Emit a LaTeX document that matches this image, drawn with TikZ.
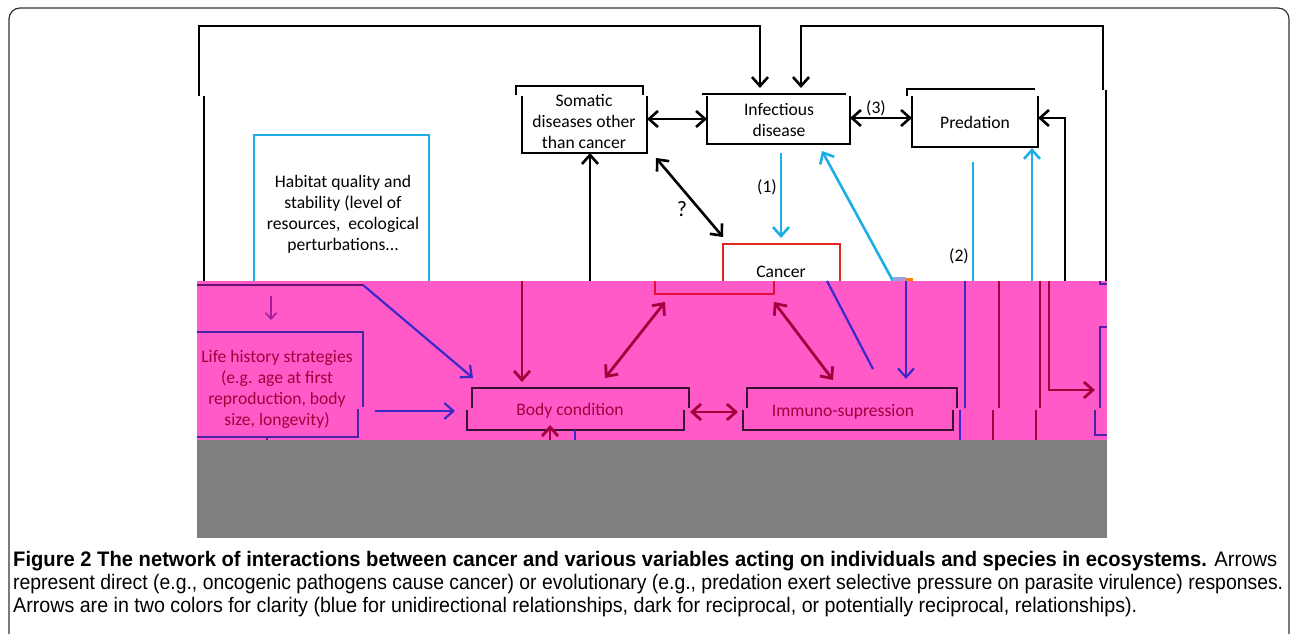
\documentclass[tikz,border=0pt]{standalone}
\usepackage{fontspec}
\setmainfont{Carlito}
\newfontfamily\capfont{Liberation Sans}
\usetikzlibrary{arrows.meta}
\definecolor{cyanA}{HTML}{1CAEE4}
\definecolor{redbox}{HTML}{E0261E}
\definecolor{redband}{HTML}{E0103A}
\definecolor{dred}{HTML}{A3003C}
\definecolor{bandblue}{HTML}{3B2AC8}
\definecolor{bandbox}{HTML}{3A1035}
\definecolor{lifebox}{HTML}{4B22A5}
\definecolor{purp}{HTML}{A0209A}
\definecolor{pinkband}{HTML}{FF5AC8}
\definecolor{framegray}{HTML}{333333}
\definecolor{lavender}{HTML}{A0A0E0}
\definecolor{darkpurp}{HTML}{6A1070}
\definecolor{blockgray}{HTML}{808080}
\tikzset{
  tip/.tip={Straight Barb[length=9pt,width=16pt]},
  blk/.style={draw=black,line width=2.6pt},
  blkthin/.style={draw=black,line width=1.6pt},
  boxline/.style={draw=black,line width=2.2pt},
  cy/.style={draw=cyanA,line width=2.6pt},
  dr/.style={draw=dred,line width=2.8pt},
  bb/.style={draw=bandblue,line width=2.2pt},
  bbox/.style={draw=bandbox,line width=2.2pt},
  lbox/.style={draw=lifebox,line width=2.2pt},
  txt/.style={font=\fontsize{17.6}{21}\selectfont,align=center,inner sep=0pt},
  btxt/.style={txt,text=dred},
  capline/.style={anchor=base west,inner sep=0pt,font=\capfont\fontsize{21}{23}\selectfont,text=black}
}
\begin{document}
\begin{tikzpicture}[x=1pt,y=-1pt]
\useasboundingbox (0,0) rectangle (1290,634);
\fill[white] (0,0) rectangle (1290,634);
\begin{scope}
\clip (0,0) rectangle (1290,634);
\draw[framegray,line width=1.2pt,rounded corners=11pt] (9,660) -- (9,8) -- (1289,8) -- (1289,660);
\end{scope}

% ---------- top (white) region ----------
\draw[blk,-{tip}] (199,96) -- (199,26) -- (760,26) -- (760,88);
\draw[blkthin] (204,96) -- (204,281);
\draw[blk,{tip}-] (801,88) -- (801,26) -- (1103,26) -- (1103,90);
\draw[blkthin] (1106,90) -- (1106,281);

% Somatic box
\draw[boxline] (516,95) -- (516,86) -- (643,86) -- (643,95);
\draw[boxline] (522,96) -- (522,153) -- (647,153) -- (647,96);
\node[txt] (somatic) at (584,121) {Somatic\\diseases other\\than cancer};

% Infectious box
\draw[boxline] (702,94) -- (846,94);
\draw[boxline] (707,96) -- (707,144) -- (850,144) -- (850,96);
\node[txt] (infect) at (779,120) {Infectious\\disease};

% Predation box
\draw[boxline] (907,96) -- (907,89) -- (1035,89);
\draw[boxline] (912,96) -- (912,147) -- (1038,147) -- (1038,96);
\node[txt] (pred) at (975,122) {Predation};

% Cancer box (top part)
\draw[redbox,line width=2.2pt] (723,281) -- (723,244) -- (840,244) -- (840,281);
\node[txt] (cancer) at (781,272) {Cancer};

% Habitat box
\draw[cyanA,line width=2.2pt] (254,281) -- (254,135) -- (429,135) -- (429,281);
\node[txt] (habitat) at (343,214) {Habitat quality and\\stability (level of\\resources,\ \ ecological\\perturbations...};

% black arrows
\coordinate (s1) at (647,119); \coordinate (i1) at (707,119);
\draw[blk,{tip}-{tip}] (s1) -- (i1);
\coordinate (i2) at (850,118); \coordinate (p1) at (912,118);
\draw[blk,{tip}-{tip}] (i2) -- (p1);
\node[txt] (l3) at (876,108) {(3)};
\coordinate (q1) at (656,158); \coordinate (q2) at (723,237);
\draw[blk,{tip}-{tip}] (q1) -- (q2);
\node[txt,font=\fontsize{22}{24}\selectfont] (qm) at (682,209) {?};
\coordinate (sb) at (590,281); \coordinate (st) at (590,153);
\draw[blk,-{tip}] (sb) -- (st);
\coordinate (pr0) at (1065,281); \coordinate (pr1) at (1038,118);
\draw[blk,-{tip}] (pr0) |- (pr1);

% cyan arrows
\coordinate (c1a) at (781,153); \coordinate (c1b) at (781,238);
\draw[cy,-{tip}] (c1a) -- (c1b);
\node[txt] (l1) at (767,187) {(1)};
\coordinate (cda) at (893,281); \coordinate (cdb) at (822,151);
\draw[cy,-{tip}] (cda) -- (cdb);
\coordinate (c2a) at (973,162); \coordinate (c2b) at (973,281);
\draw[cy] (c2a) -- (c2b);
\node[txt] (l2) at (959,256) {(2)};
\coordinate (c3a) at (1032,281); \coordinate (c3b) at (1032,148);
\draw[cy,-{tip}] (c3a) -- (c3b);
\fill[lavender] (893,277) rectangle (906,281);
\fill[orange] (906,277.5) rectangle (913,280.5);

% ---------- magenta band ----------
\fill[pinkband] (197,281) rectangle (1107,440);
\draw[draw=darkpurp,line width=2.2pt] (197,285) -- (363,285);
\coordinate (hb) at (363,285); \coordinate (bcl) at (473,378);
\draw[bb,-{tip}] (hb) -- (bcl);
\coordinate (pa) at (271,296); \coordinate (pb) at (271,320);
\draw[purp,line width=1.6pt,-{Straight Barb[length=6pt,width=11pt]}] (pa) -- (pb);

% Life history box
\draw[lbox] (197,332) -- (363,332) -- (363,407);
\draw[lbox] (358,409) -- (358,437) -- (197,437);
\draw[lbox] (267,437) -- (267,440);
\node[btxt] (life) at (277,389) {Life history strategies\\(e.g. age at first\\reproduction, body\\size, longevity)};
\coordinate (la) at (375,411); \coordinate (lb) at (455,411);
\draw[bb,-{tip}] (la) -- (lb);

% Body condition box
\draw[bbox] (472,408) -- (472,388) -- (689,388) -- (689,408);
\draw[bbox] (467,410) -- (467,430) -- (684,430) -- (684,410);
\node[btxt] (body) at (570,411) {Body condition};

\coordinate (da) at (522,281); \coordinate (db) at (522,382);
\draw[dr,-{tip}] (da) -- (db);
\coordinate (ca) at (605,378); \coordinate (cb) at (665,302);
\draw[dr,{tip}-{tip}] (ca) -- (cb);
\draw[redband,line width=2.2pt] (655,281) -- (655,294) -- (774,294) -- (774,281);
\coordinate (cc) at (774,302); \coordinate (cd) at (833,380);
\draw[dr,{tip}-{tip}] (cc) -- (cd);
\coordinate (ba) at (827,281); \coordinate (bb2) at (873,369);
\draw[bb] (ba) -- (bb2);
\coordinate (bva) at (906,281); \coordinate (bvb) at (906,379);
\draw[bb,-{tip}] (bva) -- (bvb);

% Immuno box
\draw[bbox] (747,408) -- (747,388) -- (957,388) -- (957,408);
\draw[bbox] (743,410) -- (743,430) -- (953,430) -- (953,410);
\node[btxt] (immuno) at (843,412) {Immuno-supression};
\coordinate (ea) at (690,412); \coordinate (eb) at (738,412);
\draw[dr,{tip}-{tip}] (ea) -- (eb);

% right verticals
\draw[bb] (965,281) -- (965,408);
\draw[bb] (960,410) -- (960,440);
\draw[dr] (999,281) -- (999,408);
\draw[dr] (993,410) -- (993,440);
\draw[dr] (1040,281) -- (1040,408);
\draw[dr] (1036,410) -- (1036,440);
\coordinate (ra) at (1049,281); \coordinate (rb) at (1095,390);
\draw[dr,-{tip}] (ra) |- (rb);
\draw[lbox] (1107,327) -- (1100,327) -- (1100,408);
\draw[lbox] (1095,410) -- (1095,435) -- (1107,435);
\draw[lbox] (1100,281) -- (1100,284) -- (1107,284);

% bottom stubs
\coordinate (ua) at (550,441); \coordinate (ub) at (550,425);
\draw[dr,-{tip}] (ua) -- (ub);
\draw[bb] (575,430) -- (575,440);

% ---------- gray block ----------
\fill[blockgray] (197,440) rectangle (1107,538);

% ---------- caption ----------
\node[capline] (cap1) at (13,566) {\resizebox{1264pt}{\height}{\textbf{Figure 2 The network of interactions between cancer and various variables acting on individuals and species in ecosystems.} Arrows}};
\node[capline] (cap2) at (13,589) {\resizebox{1270pt}{\height}{represent direct (e.g., oncogenic pathogens cause cancer) or evolutionary (e.g., predation exert selective pressure on parasite virulence) responses.}};
\node[capline] (cap3) at (13,612) {\resizebox{1124pt}{\height}{Arrows are in two colors for clarity (blue for unidirectional relationships, dark for reciprocal, or potentially reciprocal, relationships).}};
\end{tikzpicture}
\end{document}
